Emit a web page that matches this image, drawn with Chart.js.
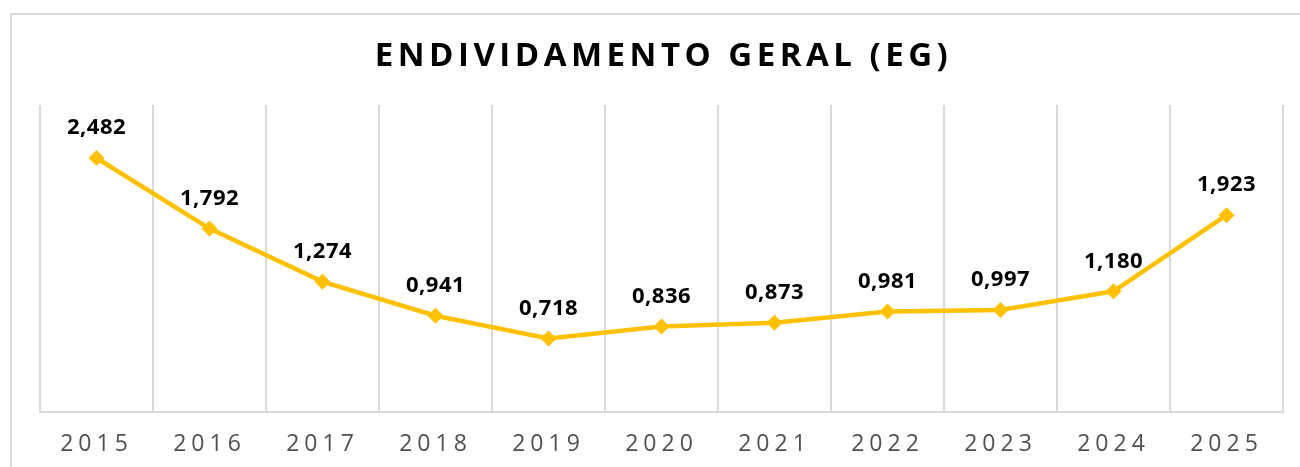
<!DOCTYPE html>
<html>
<head>
<meta charset="utf-8">
<script src="https://cdn.jsdelivr.net/npm/chart.js@4.4.1/dist/chart.umd.min.js"></script>
<style>
  html, body { margin: 0; padding: 0; background: #fff; overflow: hidden; }
  #wrap { position: relative; width: 1300px; height: 467px; }
</style>
</head>
<body>
<div id="wrap"><canvas id="egChart"></canvas></div>
<script>
const chartTitle = 'ENDIVIDAMENTO GERAL (EG)';
const years = ['2015', '2016', '2017', '2018', '2019', '2020', '2021', '2022', '2023', '2024', '2025'];
const egValues = [2.482, 1.792, 1.274, 0.941, 0.718, 0.836, 0.873, 0.981, 0.997, 1.180, 1.923];

const lineColor = '#FFC000';
const gridColor = '#D9D9D9';

// outer frame + letter spacing for the ticks
const framePlugin = {
  id: 'frame',
  beforeDraw(chart) {
    let ctx = chart.ctx;
    ctx.save();
    ctx.strokeStyle = gridColor;
    ctx.lineWidth = 2;
    ctx.strokeRect(11, 14, 1400, 600);
    ctx.restore();
    ctx.letterSpacing = '5px';
  },
};

const titlePlugin = {
  id: 'spacedTitle',
  afterDraw(chart) {
    let ctx = chart.ctx;
    let area = chart.chartArea;
    ctx.save();
    ctx.letterSpacing = '4.5px';
    ctx.font = 'bold 33px "Open Sans"';
    ctx.fillStyle = '#000';
    ctx.textAlign = 'center';
    ctx.textBaseline = 'middle';
    ctx.fillText(chartTitle, (area.left + area.right) / 2 + 2, 57);
    ctx.restore();
  },
};

// value labels above each point
const labelPlugin = {
  id: 'valueLabels',
  afterDatasetsDraw(chart) {
    let ctx = chart.ctx;
    let meta = chart.getDatasetMeta(0);
    ctx.save();
    ctx.letterSpacing = '0.5px';
    ctx.font = 'bold 22px "Open Sans"';
    ctx.fillStyle = '#000';
    ctx.textAlign = 'center';
    ctx.textBaseline = 'middle';
    meta.data.forEach(function (pt, i) {
      let txt = egValues[i].toFixed(3).replace('.', ',');
      ctx.fillText(txt, pt.x, pt.y - 30);
    });
    ctx.restore();
  },
};

new Chart(document.getElementById('egChart'), {
  type: 'line',
  data: {
    labels: years,
    datasets: [
      {
        label: chartTitle,
        data: egValues,
        borderColor: lineColor,
        backgroundColor: lineColor,
        borderWidth: 4.5,
        pointStyle: 'rectRot',
        pointRadius: 8,
        pointBorderWidth: 0,
        tension: 0,
        fill: false,
      },
    ],
  },
  options: {
    responsive: true,
    maintainAspectRatio: false,
    animation: false,
    layout: {
      padding: { left: 40, right: 17, top: 105, bottom: 0 },
    },
    plugins: {
      legend: { display: false },
      title: { display: false },
      tooltip: { enabled: false },
    },
    scales: {
      x: {
        offset: true,
        afterFit(scale) {
          scale.height = 55;
        },
        grid: {
          offset: true,
          display: true,
          color: gridColor,
          lineWidth: 2,
          drawTicks: false,
        },
        border: { display: true, color: gridColor, width: 2 },
        ticks: {
          padding: 19,
          color: '#505050',
          font: { family: '"Open Sans"', size: 23 },
        },
      },
      y: {
        display: false,
        min: 0,
        max: 3,
      },
    },
  },
  plugins: [framePlugin, titlePlugin, labelPlugin],
});
</script>
</body>
</html>
